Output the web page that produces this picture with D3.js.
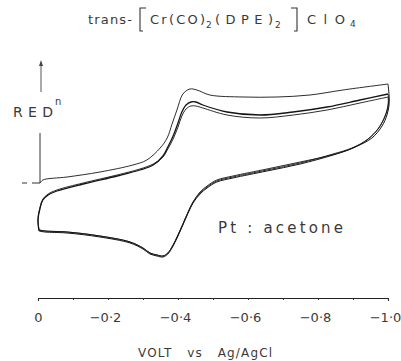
<!DOCTYPE html>
<html><head><meta charset="utf-8">
<script src="https://cdn.jsdelivr.net/npm/d3@7"></script>
<style>
html,body{margin:0;padding:0;background:#fff;}
svg{display:block;}
text{font-family:"DejaVu Sans",sans-serif;fill:#3a3a3a;}
</style>
</head><body>
<svg id="c" width="401" height="361"></svg>
<script>
// ---- data (potential in V vs Ag/AgCl, current in arbitrary units) ----
const fwd1E = [-0.006, -0.014, -0.083, -0.177, -0.271, -0.311, -0.349, -0.369, -0.383, -0.397, -0.414, -0.434, -0.454, -0.491, -0.586, -0.683, -0.777, -0.871, -1.0];
const fwd1I = [0, 0.3, 0.6, 1.1, 1.8, 2.3, 3.5, 4.5, 5.9, 7.3, 8.9, 9.4, 9.3, 8.8, 8.6, 8.6, 8.8, 9.3, 9.9];

const rev1E = [-1.0, -1.003, -1.003, -0.997, -0.983, -0.954, -0.906, -0.843, -0.749, -0.654, -0.557, -0.511, -0.483, -0.463, -0.443, -0.429, -0.414, -0.400, -0.386, -0.371, -0.357, -0.340, -0.320, -0.300, -0.263, -0.177, -0.083, -0.020, -0.003];
const rev1I = [9.9, 8.8, 7.8, 6.8, 5.7, 4.5, 3.6, 2.8, 1.9, 1.2, 0.5, 0.1, -0.5, -1.1, -2.0, -3.0, -4.2, -5.3, -6.3, -7.1, -7.4, -7.3, -7.1, -6.6, -6.0, -5.4, -5.0, -4.9, -4.8];

const fwd2E = [-0.003, 0.0, -0.006, -0.014, -0.029, -0.054, -0.129, -0.226, -0.291, -0.329, -0.357, -0.371, -0.386, -0.400, -0.411, -0.423, -0.437, -0.451, -0.471, -0.540, -0.634, -0.729, -0.826, -0.920, -1.0];
const fwd2I = [-4.8, -3.7, -2.5, -1.7, -1.2, -0.8, -0.1, 0.7, 1.3, 1.8, 2.7, 3.6, 4.7, 6.0, 7.1, 7.8, 8.1, 8.1, 7.8, 7.1, 6.8, 7.1, 7.6, 8.3, 8.9];

const rev2E = [-1.0, -1.002, -1.0, -0.991, -0.974, -0.943, -0.897, -0.843, -0.749, -0.654, -0.557, -0.511, -0.483, -0.463, -0.443, -0.429, -0.414, -0.400, -0.386, -0.371, -0.357, -0.340, -0.320, -0.300, -0.263, -0.177, -0.083, -0.020, -0.003];
const rev2I = [8.9, 8.4, 7.6, 6.6, 5.5, 4.4, 3.5, 2.9, 2.0, 1.3, 0.6, 0.2, -0.4, -1.0, -1.9, -2.9, -4.1, -5.2, -6.2, -7.0, -7.3, -7.2, -7.0, -6.5, -5.9, -5.3, -4.9, -4.8, -4.7];

const fwd3E = [-0.003, 0.0, -0.006, -0.014, -0.029, -0.054, -0.129, -0.226, -0.291, -0.329, -0.357, -0.371, -0.386, -0.400, -0.411, -0.423, -0.437, -0.451, -0.471, -0.540, -0.634, -0.729, -0.826, -0.920, -1.0];
const fwd3I = [-4.7, -3.6, -2.4, -1.6, -1.1, -0.7, 0.0, 0.8, 1.4, 1.9, 2.6, 3.4, 4.4, 5.6, 6.7, 7.4, 7.7, 7.7, 7.5, 6.8, 6.5, 6.8, 7.3, 8.0, 8.6];

const rev3E = [-1.0, -1.001, -0.998, -0.989, -0.971, -0.940, -0.894, -0.840, -0.749, -0.654, -0.557, -0.511, -0.483, -0.463, -0.443, -0.429, -0.414, -0.400, -0.386, -0.371, -0.357, -0.340, -0.320, -0.300, -0.263, -0.177, -0.083, -0.020, -0.003];
const rev3I = [8.6, 8.2, 7.4, 6.5, 5.4, 4.3, 3.4, 2.8, 2.1, 1.4, 0.7, 0.3, -0.3, -0.9, -1.9, -2.9, -4.1, -5.2, -6.2, -7.0, -7.3, -7.2, -7.0, -6.5, -5.9, -5.3, -4.9, -4.8, -4.7];

const xTickValues = [0, -0.1, -0.2, -0.3, -0.4, -0.5, -0.6, -0.7, -0.8, -0.9, -1.0];
const xLabelValues = [0, -0.2, -0.4, -0.6, -0.8, -1.0];
const xLabelTexts = ["0", "\u22120\u00b72", "\u22120\u00b74", "\u22120\u00b76", "\u22120\u00b78", "\u22121\u00b70"];

// ---- drawing ----
const svg = d3.select("#c");
const x = d3.scaleLinear().domain([0, -1]).range([38, 388]);
const y = d3.scaleLinear().domain([0, 10]).range([183, 83]);

const line = d3.line().x(d => x(d[0])).y(d => y(d[1])).curve(d3.curveCatmullRom.alpha(0.5));
const series = [
  [fwd1E, fwd1I, 0.9], [rev1E, rev1I, 1.0],
  [fwd2E, fwd2I, 1.3], [rev2E, rev2I, 0.9],
  [fwd3E, fwd3I, 0.9], [rev3E, rev3I, 0.9]
];
series.forEach(([E, I, w]) => {
  svg.append("path").datum(E.map((e, i) => [e, I[i]]))
    .attr("d", line).attr("fill", "none").attr("stroke", "#151515")
    .attr("stroke-width", w).attr("stroke-linejoin", "round");
});

// x axis
const gx = svg.append("g").attr("transform", "translate(0,298)")
  .call(d3.axisBottom(x).tickValues(xTickValues).tickSize(2).tickSizeOuter(3).tickPadding(13)
    .tickFormat(v => { const k = xLabelValues.findIndex(l => Math.abs(l - v) < 1e-9); return k >= 0 ? xLabelTexts[k] : ""; }));
gx.attr("font-family", null).attr("font-size", null);
gx.select(".domain").attr("stroke", "#222").attr("stroke-width", 1.1);
gx.selectAll(".tick line").attr("stroke", "#333");
gx.selectAll(".tick text").attr("font-size", 13).attr("dx", (d) => d === 0 ? 0 : -3).style("fill", "#3a3a3a");

svg.append("text").attr("x", 138).attr("y", 357)
  .attr("font-size", 12).attr("textLength", 134).attr("lengthAdjust", "spacing")
  .attr("xml:space", "preserve").text("VOLT   vs   Ag/AgCl");

// y axis indicator
svg.append("line").attr("x1", 41).attr("x2", 41).attr("y1", 64).attr("y2", 92).attr("stroke", "#555").attr("stroke-width", 1);
svg.append("path").attr("d", "M41,60 L39,66 L43,66 Z").attr("fill", "#444");
svg.append("line").attr("x1", 40).attr("x2", 40).attr("y1", 133).attr("y2", y(0)).attr("stroke", "#333").attr("stroke-width", 1);
svg.append("line").attr("x1", 22).attr("x2", 27).attr("y1", y(0)).attr("y2", y(0)).attr("stroke", "#333");
svg.append("line").attr("x1", 32).attr("x2", 40).attr("y1", y(0)).attr("y2", y(0)).attr("stroke", "#333");
const red = svg.append("text").attr("x", 13).attr("y", 117).attr("font-size", 14);
red.append("tspan").text("RED").attr("textLength", 40).attr("lengthAdjust", "spacing");
svg.append("text").attr("x", 55).attr("y", 105).attr("font-size", 10).text("n");

// annotation
svg.append("text").attr("x", 218).attr("y", 233).attr("font-size", 15)
  .attr("textLength", 125).attr("lengthAdjust", "spacing").text("Pt : acetone");

// title
const T = svg.append("g");
T.append("text").attr("x", 88).attr("y", 24).attr("font-size", 13).attr("textLength", 44).attr("lengthAdjust", "spacing").text("trans-");
T.append("path").attr("d", "M146,8 L140,8 L140,31 L143,31").attr("fill", "none").attr("stroke", "#333").attr("stroke-width", 1.1);
T.append("text").attr("x", 150).attr("y", 24).attr("font-size", 13).attr("textLength", 55).attr("lengthAdjust", "spacing").text("Cr(CO)");
T.append("text").attr("x", 206).attr("y", 28).attr("font-size", 9).text("2");
T.append("text").attr("x", 215).attr("y", 24).attr("font-size", 13).attr("textLength", 58).attr("lengthAdjust", "spacing").text("(DPE)");
T.append("text").attr("x", 275).attr("y", 28).attr("font-size", 9).text("2");
T.append("path").attr("d", "M291,8 L297,8 L297,31 L294,31").attr("fill", "none").attr("stroke", "#333").attr("stroke-width", 1.1);
T.append("text").attr("x", 307).attr("y", 24).attr("font-size", 13).attr("textLength", 38).attr("lengthAdjust", "spacing").text("ClO");
T.append("text").attr("x", 350).attr("y", 27).attr("font-size", 9).text("4");
</script>
</body></html>
